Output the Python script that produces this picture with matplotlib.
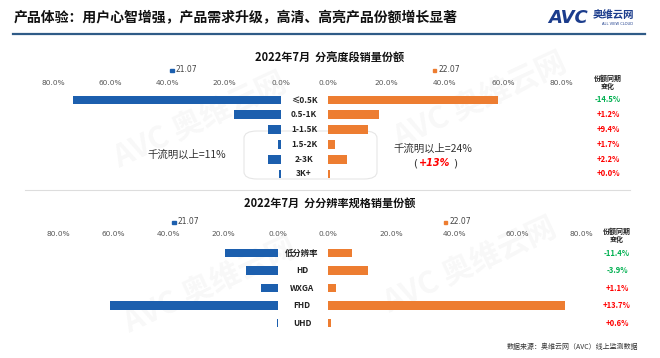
import matplotlib
matplotlib.use("Agg")
import matplotlib.pyplot as plt
from matplotlib.patches import Rectangle, FancyBboxPatch
from matplotlib.lines import Line2D

plt.rcParams['font.family'] = ['Noto Sans CJK SC', 'DejaVu Sans']

# ---------------- data ----------------
bright_cats = ["≤0.5K", "0.5-1K", "1-1.5K", "1.5-2K", "2-3K", "3K+"]
bright_2107 = [73.0, 16.5, 4.6, 0.9, 4.6, 0.6]
bright_2207 = [58.3, 17.6, 13.8, 2.5, 6.6, 0.6]
bright_change = ["-14.5%", "+1.2%", "+9.4%", "+1.7%", "+2.2%", "+0.0%"]

res_cats = ["低分辨率", "HD", "WXGA", "FHD", "UHD"]
res_2107 = [19.3, 11.7, 6.3, 61.0, 0.5]
res_2207 = [7.7, 12.7, 2.6, 74.8, 0.8]
res_change = ["-11.4%", "-3.9%", "+1.1%", "+13.7%", "+0.6%"]

ticks = [0, 20, 40, 60, 80]
tick_labels = ["0.0%", "20.0%", "40.0%", "60.0%", "80.0%"]
series_names = ["21.07", "22.07"]

BLUE = "#1c5fae"
ORANGE = "#ed7d31"
RED = "#ff0000"
GREEN = "#00b050"

W, H = 660, 358
fig = plt.figure(figsize=(W / 100, H / 100), dpi=100)
fig.patch.set_facecolor("white")


def fx(x):
    return x / W


def fy(y):
    return 1 - y / H


def add_ax(x0, x1, y0, y1):
    # pixel coords (y0 top, y1 bottom)
    return fig.add_axes([fx(x0), fy(y1), (x1 - x0) / W, (y1 - y0) / H])


# ---------------- watermark ----------------
for (wx, wy) in [(200, 120), (210, 285), (480, 100), (470, 265)]:
    t = fig.text(fx(wx), fy(wy), "AVC 奥维云网", fontsize=22, fontweight="bold",
                 color="#000000", alpha=0.03, rotation=25, ha="center", va="center")
    t.set_zorder(-5)

# ---------------- header ----------------
fig.text(fx(14), fy(18), "产品体验：用户心智增强，产品需求升级，高清、高亮产品份额增长显著",
         fontsize=10, fontweight="bold", color="#111111", ha="left", va="center")
fig.add_artist(Line2D([fx(13), fx(645)], [fy(34), fy(34)], color="#2f5b87", lw=1.6))
fig.text(fx(548), fy(18), "AVC", fontsize=13, fontweight="bold", color="#1b3c8c",
         ha="left", va="center", family="DejaVu Sans", style="italic")
fig.text(fx(593), fy(15), "奥维云网", fontsize=7.5, fontweight="bold", color="#1b3c8c",
         ha="left", va="center")
fig.text(fx(602), fy(24), "ALL VIEW CLOUD", fontsize=2.6, color="#1b3c8c",
         ha="left", va="center", family="DejaVu Sans")

# separator
fig.add_artist(Line2D([fx(25), fx(630)], [fy(190), fy(190)], color="#dddddd", lw=0.8))


def legend(x, y, color, label):
    fig.add_artist(Rectangle((fx(x), fy(y + 2)), 3.5 / W, 3.5 / H, color=color,
                             transform=fig.transFigure))
    fig.text(fx(x + 5), fy(y), label, fontsize=5.5, color="#444444",
             ha="left", va="center", family="DejaVu Sans")


def panel(vals_l, vals_r, cats, changes, lx0, lx1, rx0, rx1, y0, y1,
          hgt, catx, chx, label_fs):
    n = len(cats)
    axl = add_ax(lx0, lx1, y0, y1)
    axr = add_ax(rx0, rx1, y0, y1)
    pos = list(range(n))
    axl.barh(pos, vals_l, height=hgt, color=BLUE)
    axr.barh(pos, vals_r, height=hgt, color=ORANGE)
    axl.set_xlim(80, 0)
    axr.set_xlim(0, 80)
    for ax in (axl, axr):
        ax.set_ylim(n - 0.5, -0.5)
        ax.set_yticks([])
        ax.set_xticks(ticks)
        ax.set_xticklabels(tick_labels, fontsize=5.3, color="#555555",
                           family="DejaVu Sans")
        ax.xaxis.tick_top()
        ax.tick_params(axis="x", length=0, pad=5)
        for s in ax.spines.values():
            s.set_visible(False)
        ax.patch.set_alpha(0)
    step = (y1 - y0) / n
    for i, (c, ch) in enumerate(zip(cats, changes)):
        yy = y0 + step * (i + 0.5)
        fig.text(fx(catx), fy(yy), c, fontsize=label_fs, fontweight="bold",
                 color="#222222", ha="center", va="center")
        col = GREEN if ch.startswith("-") else RED
        fig.text(fx(chx), fy(yy), ch, fontsize=5.5, fontweight="bold",
                 color=col, ha="center", va="center")
    return axl, axr


# ---------------- top chart ----------------
fig.text(fx(330), fy(58), "2022年7月  分亮度段销量份额", fontsize=8, fontweight="bold",
         color="#111111", ha="center", va="center")
legend(170, 70, BLUE, series_names[0])
legend(433, 70, ORANGE, series_names[1])
fig.text(fx(608), fy(82), "份额同期\n变化", fontsize=5, fontweight="bold",
         color="#222222", ha="center", va="center", linespacing=1.2)

# rounded box (behind bars)
box = FancyBboxPatch((fx(244), fy(179)), (377 - 244) / W, (179 - 131) / H,
                     boxstyle="round,pad=0,rounding_size=0.02",
                     transform=fig.transFigure, fill=False,
                     ec="#e6e6e6", lw=0.8, zorder=-2)
fig.add_artist(box)

panel(bright_2107, bright_2207, bright_cats, bright_change,
      53, 281, 328, 561, 92.6, 181.4, 0.6, 304, 608, 6)

fig.text(fx(187), fy(155), "千流明以上=11%", fontsize=7.5, color="#333333",
         ha="center", va="center")
fig.text(fx(433), fy(149), "千流明以上=24%", fontsize=7.5, color="#333333",
         ha="center", va="center")
fig.text(fx(415), fy(163), "(", fontsize=7.5, color="#333333", ha="center",
         va="center", family="DejaVu Sans")
fig.text(fx(435), fy(163), "+13%", fontsize=7, color=RED, fontweight="bold",
         style="italic", ha="center", va="center", family="DejaVu Sans")
fig.text(fx(455), fy(163), ")", fontsize=7.5, color="#333333", ha="center",
         va="center", family="DejaVu Sans")

# ---------------- bottom chart ----------------
fig.text(fx(330), fy(203), "2022年7月  分分辨率规格销量份额", fontsize=8, fontweight="bold",
         color="#111111", ha="center", va="center")
legend(172, 222, BLUE, series_names[0])
legend(444, 222, ORANGE, series_names[1])
fig.text(fx(617), fy(235), "份额同期\n变化", fontsize=5, fontweight="bold",
         color="#222222", ha="center", va="center", linespacing=1.2)

panel(res_2107, res_2207, res_cats, res_change,
      58, 278, 328, 581, 244.3, 331.8, 0.5, 302, 617, 6)

fig.text(fx(638), fy(347), "数据来源：奥维云网（AVC）线上监测数据", fontsize=5,
         color="#333333", ha="right", va="center")

fig.savefig("out.png", dpi=100, facecolor="white")
